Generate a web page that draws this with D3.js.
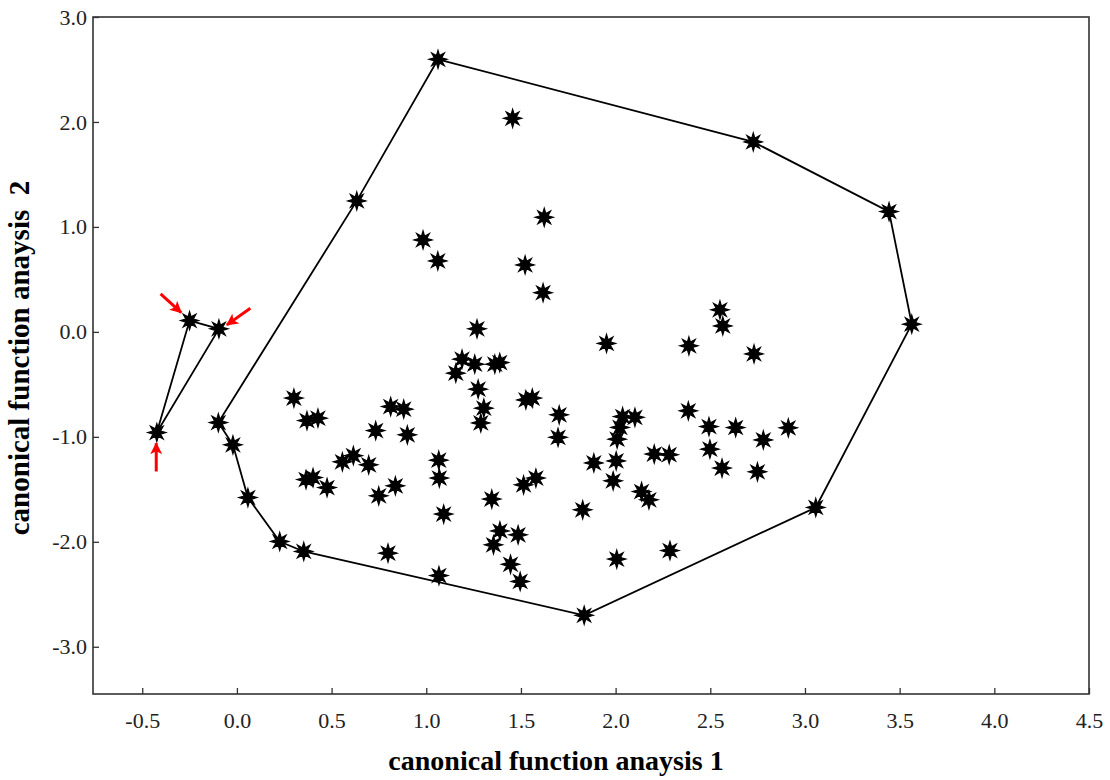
<!DOCTYPE html>
<html>
<head>
<meta charset="utf-8">
<script src="https://cdn.jsdelivr.net/npm/d3@7"></script>
<style>
  body { margin: 0; background: #fff; }
  svg { display: block; }
  .tick text { font-family: "Liberation Serif", "Times New Roman", serif; font-size: 22px; fill: #222; }
  .title { font-family: "Liberation Serif", "Times New Roman", serif; font-weight: bold; fill: #000; white-space: pre; }
</style>
</head>
<body>
<div id="chart"></div>
<script>
// canonical scores, axis 1 / axis 2
var hullX = [1.062, 2.727, 3.444, 3.564, 3.057, 1.834, 0.353, 0.226, 0.058, -0.021, -0.098, 0.633];
var hullY = [2.597, 1.810, 1.146, 0.073, -1.673, -2.700, -2.092, -1.997, -1.578, -1.076, -0.864, 1.248];

var innerX = [1.456, 1.623, 0.983, 1.061, 1.522, 1.617, 1.268, 1.952, 2.551, 2.566,
  2.387, 2.731, 1.189, 1.256, 1.156, 1.362, 1.388, 1.274, 1.304, 1.288,
  1.526, 1.560, 0.301, 0.370, 0.428, 0.812, 0.881, 0.733, 0.900, 0.557,
  0.615, 0.696, 0.365, 0.402, 0.476, 0.749, 0.837, 1.066, 1.069, 1.092,
  0.798, 1.067, 1.346, 1.514, 1.579, 1.389, 1.355, 1.485, 1.445, 1.496,
  1.702, 1.696, 2.037, 2.023, 2.008, 2.102, 2.384, 2.493, 2.634, 2.912,
  2.780, 2.498, 2.562, 2.749, 1.885, 2.003, 1.987, 2.204, 2.283, 2.137,
  2.176, 1.826, 2.006, 2.287];
var innerY = [2.035, 1.092, 0.876, 0.676, 0.638, 0.374, 0.029, -0.110, 0.210, 0.057,
  -0.133, -0.210, -0.260, -0.308, -0.393, -0.308, -0.292, -0.546, -0.727, -0.867,
  -0.648, -0.631, -0.631, -0.845, -0.822, -0.711, -0.736, -0.940, -0.981, -1.238,
  -1.179, -1.267, -1.407, -1.388, -1.483, -1.562, -1.467, -1.222, -1.393, -1.736,
  -2.108, -2.322, -1.593, -1.457, -1.393, -1.897, -2.029, -1.933, -2.214, -2.378,
  -0.790, -1.005, -0.807, -0.910, -1.022, -0.814, -0.752, -0.902, -0.911, -0.914,
  -1.029, -1.117, -1.298, -1.333, -1.248, -1.229, -1.419, -1.164, -1.170, -1.521,
  -1.600, -1.695, -2.165, -2.083];

// the three separate samples on the left
var outlierX = [-0.250, -0.095, -0.423];
var outlierY = [0.108, 0.029, -0.959];

// red pointers: [fromX, fromY, toX, toY]
var arrows = [
  [-0.403, 0.362, -0.294, 0.184],
  [0.071, 0.226, -0.053, 0.067],
  [-0.426, -1.330, -0.426, -1.060]
];

var xTicks = [-0.5, 0, 0.5, 1, 1.5, 2, 2.5, 3, 3.5, 4, 4.5];
var yTicks = [-3, -2, -1, 0, 1, 2, 3];

var width = 1110, height = 780;
var margin = { top: 17, right: 21, bottom: 86, left: 93 };

var svg = d3.select('#chart').append('svg')
    .attr('width', width)
    .attr('height', height);

var xScale = d3.scaleLinear()
    .domain([-0.76, 4.5])
    .range([margin.left, width - margin.right]);
var yScale = d3.scaleLinear()
    .domain([-3.45, 3.0])
    .range([height - margin.bottom, margin.top]);

var fmt = function (d) { return d.toFixed(1); };

var xAxis = svg.append('g')
    .attr('transform', 'translate(0,' + (height - margin.bottom) + ')')
    .call(d3.axisBottom(xScale).tickValues(xTicks).tickFormat(fmt)
        .tickSizeInner(-6).tickSizeOuter(0).tickPadding(18));
var yAxis = svg.append('g')
    .attr('transform', 'translate(' + margin.left + ',0)')
    .call(d3.axisLeft(yScale).tickValues(yTicks).tickFormat(fmt)
        .tickSizeInner(-6).tickSizeOuter(0).tickPadding(6));
[xAxis, yAxis].forEach(function (g) {
    g.selectAll('.tick line').attr('stroke', '#333').attr('stroke-width', 1.3);
    g.select('.domain').remove();
});

// box around the plot area
svg.append('rect')
    .attr('x', xScale(-0.76))
    .attr('y', yScale(3.0))
    .attr('width', xScale(4.5) - xScale(-0.76))
    .attr('height', yScale(-3.45) - yScale(3.0))
    .attr('fill', 'none')
    .attr('stroke', '#333')
    .attr('stroke-width', 1.6);

var line = d3.line()
    .x(function (d) { return xScale(d[0]); })
    .y(function (d) { return yScale(d[1]); })
    .curve(d3.curveLinearClosed);

var hull = hullX.map(function (x, i) { return [x, hullY[i]]; });
var outliers = outlierX.map(function (x, i) { return [x, outlierY[i]]; });

svg.append('path')
    .datum(hull)
    .attr('d', line)
    .attr('fill', 'none')
    .attr('stroke', '#000')
    .attr('stroke-width', 1.8);
svg.append('path')
    .datum(outliers)
    .attr('d', line)
    .attr('fill', 'none')
    .attr('stroke', '#000')
    .attr('stroke-width', 1.8);

// eight-pointed star marker
var star8 = {
    draw: function (context, size) {
        var r = Math.sqrt(size), ri = r * 0.45;
        for (var k = 0; k < 16; k++) {
            var a = -Math.PI / 2 + k * Math.PI / 8;
            var rr = k % 2 === 0 ? r : ri;
            if (k === 0) context.moveTo(rr * Math.cos(a), rr * Math.sin(a));
            else context.lineTo(rr * Math.cos(a), rr * Math.sin(a));
        }
        context.closePath();
    }
};
var symbol = d3.symbol().type(star8).size(81);

var points = hull.concat(outliers)
    .concat(innerX.map(function (x, i) { return [x, innerY[i]]; }));

svg.append('g')
    .selectAll('path')
    .data(points)
    .enter().append('path')
    .attr('transform', function (d) { return 'translate(' + xScale(d[0]) + ',' + yScale(d[1]) + ')'; })
    .attr('d', symbol)
    .attr('fill', '#000')
    .attr('stroke', '#000')
    .attr('stroke-width', 1.2);

// arrowheads
svg.append('defs').append('marker')
    .attr('id', 'head')
    .attr('viewBox', '0 0 12 12')
    .attr('refX', 11)
    .attr('refY', 6)
    .attr('markerWidth', 12)
    .attr('markerHeight', 12)
    .attr('markerUnits', 'userSpaceOnUse')
    .attr('orient', 'auto')
    .append('path')
    .attr('d', 'M0,0 L12,6 L0,12 L3,6 Z')
    .attr('fill', '#f00');

svg.append('g')
    .selectAll('line')
    .data(arrows)
    .enter().append('line')
    .attr('x1', function (d) { return xScale(d[0]); })
    .attr('y1', function (d) { return yScale(d[1]); })
    .attr('x2', function (d) { return xScale(d[2]); })
    .attr('y2', function (d) { return yScale(d[3]); })
    .attr('stroke', '#f00')
    .attr('stroke-width', 3)
    .attr('marker-end', 'url(#head)');

svg.append('text')
    .attr('class', 'title')
    .attr('x', 556)
    .attr('y', 770)
    .attr('text-anchor', 'middle')
    .style('font-size', '28px')
    .text('canonical function anaysis 1');

svg.append('text')
    .attr('class', 'title')
    .attr('transform', 'translate(29,358) rotate(-90)')
    .attr('text-anchor', 'middle')
    .style('font-size', '29px')
    .text('canonical function anaysis  2');
</script>
</body>
</html>
